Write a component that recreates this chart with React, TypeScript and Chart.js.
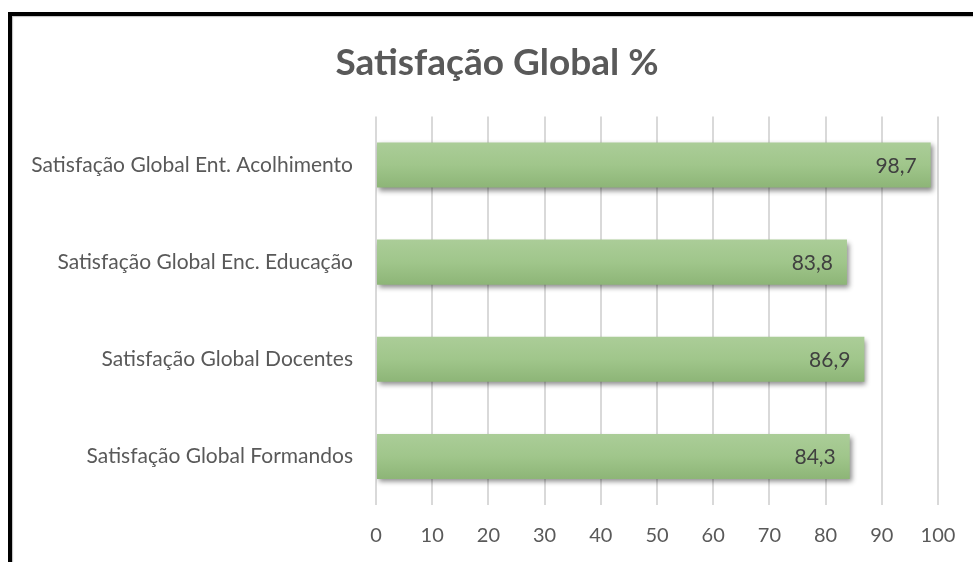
import React, { useEffect, useRef } from "react";
import { Chart, registerables } from "chart.js";

Chart.register(...registerables);

const categories = [
  "Satisfação Global Ent. Acolhimento",
  "Satisfação Global Enc. Educação",
  "Satisfação Global Docentes",
  "Satisfação Global Formandos",
];
const values = [98.7, 83.8, 86.9, 84.3];
const titleText = "Satisfação Global %";
const xMin = 0;
const xMax = 100;
const xStep = 10;

const FONT = "Lato, 'Open Sans', sans-serif";
const BAR_PCT = 0.464;

const shadowPlugin = {
  id: "barShadow",
  beforeDatasetDraw(chart: any) {
    const ctx = chart.ctx;
    ctx.save();
    ctx.shadowColor = "rgba(0,0,0,0.45)";
    ctx.shadowBlur = 5;
    ctx.shadowOffsetX = 2;
    ctx.shadowOffsetY = 3;
  },
  afterDatasetDraw(chart: any) {
    chart.ctx.restore();
  },
};

const labelPlugin = {
  id: "barLabels",
  afterDatasetsDraw(chart: any) {
    const ctx = chart.ctx;
    const meta = chart.getDatasetMeta(0);
    const data = chart.data.datasets[0].data as number[];
    ctx.save();
    ctx.font = `21px ${FONT}`;
    ctx.fillStyle = "#404040";
    ctx.textAlign = "right";
    ctx.textBaseline = "middle";
    meta.data.forEach((el: any, i: number) => {
      const txt = data[i].toFixed(1).replace(".", ",");
      ctx.fillText(txt, el.x - 14, el.y + 1);
    });
    ctx.restore();
  },
};

export default function App() {
  const ref = useRef<HTMLCanvasElement | null>(null);

  useEffect(() => {
    if (!ref.current) return;
    const chart = new Chart(ref.current, {
      type: "bar",
      data: {
        labels: categories,
        datasets: [
          {
            data: values,
            backgroundColor: (c: any) => {
              const ch = c.chart;
              const area = ch.chartArea;
              if (!area || !ch.scales.y) return "#9fc58a";
              const y = ch.scales.y.getPixelForValue(c.dataIndex);
              const h = (area.height / categories.length) * BAR_PCT;
              const g = ch.ctx.createLinearGradient(0, y - h / 2, 0, y + h / 2);
              g.addColorStop(0, "#abcd98");
              g.addColorStop(0.5, "#a0c68b");
              g.addColorStop(1, "#8db577");
              return g;
            },
            borderWidth: 0,
            categoryPercentage: 1,
            barPercentage: BAR_PCT,
          },
        ],
      },
      options: {
        indexAxis: "y",
        responsive: false,
        animation: false,
        events: [],
        layout: { padding: { top: 0, right: 0, bottom: 0, left: 21 } },
        plugins: {
          legend: { display: false },
          tooltip: { enabled: false },
          title: {
            display: true,
            text: titleText,
            color: "#595959",
            font: { family: FONT, size: 37, weight: "bold" },
            padding: { top: 41, bottom: 31 },
          },
        },
        scales: {
          x: {
            min: xMin,
            max: xMax,
            ticks: {
              stepSize: xStep,
              color: "#595959",
              font: { family: FONT, size: 20 },
              padding: 19,
            },
            grid: { color: "#d9d9d9", lineWidth: 2, drawTicks: false },
            border: { display: false },
            afterFit: (scale: any) => {
              scale.height = 57;
              scale.paddingRight = 35;
            },
          },
          y: {
            ticks: {
              color: "#595959",
              font: { family: FONT, size: 21 },
              padding: 23,
            },
            grid: { display: false, drawTicks: false },
            border: { display: false },
            afterFit: (scale: any) => {
              scale.width = 355;
            },
          },
        },
      },
      plugins: [shadowPlugin, labelPlugin],
    });
    return () => chart.destroy();
  }, []);

  return (
    <div style={{ position: "fixed", inset: 0, overflow: "hidden", background: "#fff" }}>
      <canvas
        ref={ref}
        width={973}
        height={562}
        style={{ position: "absolute", left: 0, top: 0, width: 973, height: 562 }}
      />
      <div
        style={{
          position: "absolute",
          left: 8,
          top: 12,
          width: 1200,
          height: 800,
          borderLeft: "4px solid #000",
          borderTop: "4px solid #000",
          boxShadow: "inset 1px 1px 1px rgba(0,0,0,0.25)",
          pointerEvents: "none",
        }}
      />
    </div>
  );
}
